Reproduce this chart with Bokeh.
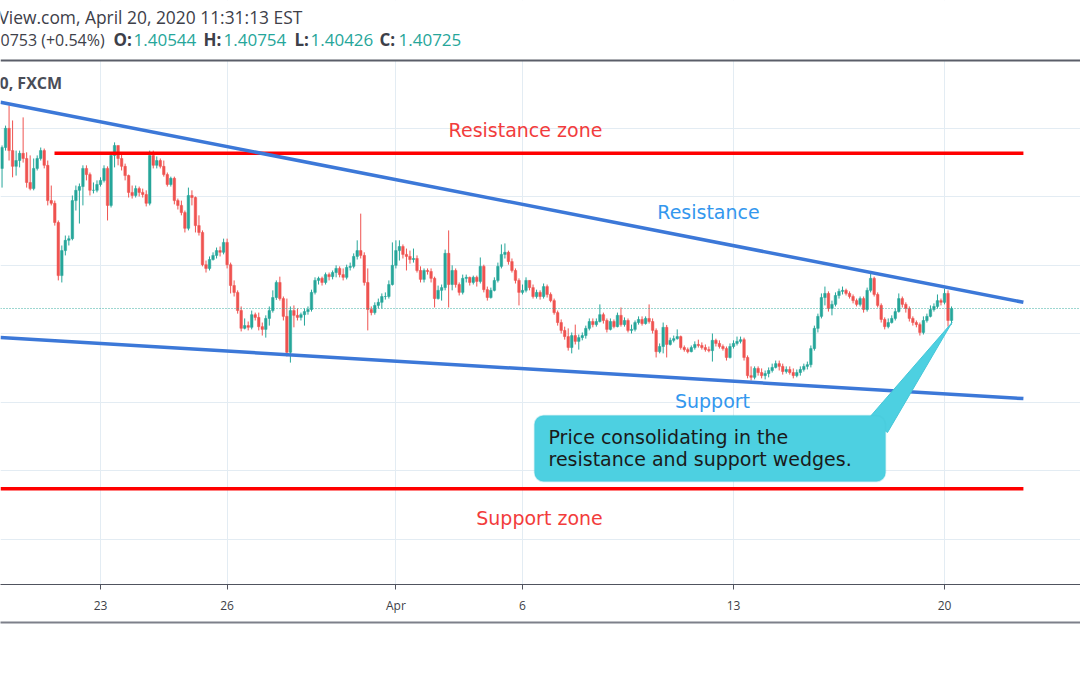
from bokeh.plotting import figure
from bokeh.models import (Range1d, FixedTicker, Span, Label, BoxAnnotation, Grid,
                          ColumnDataSource, LinearAxis)
from bokeh.embed import file_html
from bokeh.resources import INLINE

# ---------------- data (USD/CAD, 2h candles, FXCM) ----------------
# x axis: trading-day index, 0 = Mon Mar 23 (weekends skipped)
tick_days = [0, 3, 7, 10, 15, 20]
tick_labels = ["23", "26", "Apr", "6", "13", "20"]
price_grid = [1.34, 1.36, 1.38, 1.40, 1.42, 1.44, 1.46]
bars_per_day = 12
first_bar_day = -28 / 12
first_open = 1.4482

close = [
    1.4543, 1.4599, 1.4534, 1.4488, 1.4505, 1.4526, 1.4511, 1.4441, 1.4423, 1.4482,
    1.4511, 1.4534, 1.4491, 1.4388, 1.4380, 1.4324, 1.4169, 1.4242, 1.4272, 1.4277,
    1.4388, 1.4418, 1.4429, 1.4482, 1.4464, 1.4418, 1.4418, 1.4435, 1.4447, 1.4482,
    1.4374, 1.4520, 1.4549, 1.4511, 1.4488, 1.4461, 1.4412, 1.4403, 1.4423, 1.4412,
    1.4406, 1.4380, 1.4520, 1.4491, 1.4505, 1.4488, 1.4464, 1.4435, 1.4453, 1.4388,
    1.4374, 1.4353, 1.4307, 1.4403, 1.4397, 1.4315, 1.4295, 1.4201, 1.4190, 1.4216,
    1.4228, 1.4242, 1.4237, 1.4266, 1.4201, 1.4140, 1.4120, 1.4067, 1.4015, 1.4023,
    1.4018, 1.4055, 1.4047, 1.4020, 1.4012, 1.4044, 1.4067, 1.4105, 1.4149, 1.4102,
    1.4050, 1.3945, 1.4067, 1.4053, 1.4047, 1.4055, 1.4064, 1.4070, 1.4120, 1.4155,
    1.4161, 1.4149, 1.4172, 1.4166, 1.4178, 1.4190, 1.4172, 1.4164, 1.4193, 1.4196,
    1.4225, 1.4242, 1.4228, 1.4149, 1.4070, 1.4061, 1.4082, 1.4091, 1.4108, 1.4108,
    1.4143, 1.4199, 1.4242, 1.4254, 1.4231, 1.4225, 1.4216, 1.4219, 1.4184, 1.4158,
    1.4184, 1.4181, 1.4161, 1.4102, 1.4126, 1.4134, 1.4234, 1.4143, 1.4184, 1.4143,
    1.4120, 1.4161, 1.4164, 1.4149, 1.4164, 1.4152, 1.4196, 1.4128, 1.4105, 1.4126,
    1.4155, 1.4196, 1.4231, 1.4237, 1.4210, 1.4184, 1.4155, 1.4120, 1.4126, 1.4155,
    1.4134, 1.4108, 1.4120, 1.4108, 1.4137, 1.4114, 1.4096, 1.4061, 1.4032, 1.4009,
    1.3991, 1.3959, 1.3994, 1.3977, 1.3988, 1.3994, 1.4015, 1.4035, 1.4026, 1.4035,
    1.4055, 1.4038, 1.4012, 1.4035, 1.4020, 1.4053, 1.4026, 1.4038, 1.4009, 1.4012,
    1.4032, 1.4041, 1.4029, 1.4044, 1.4035, 1.4009, 1.3947, 1.3962, 1.4018, 1.3968,
    1.3980, 1.3985, 1.3991, 1.3959, 1.3953, 1.3947, 1.3959, 1.3968, 1.3965, 1.3959,
    1.3953, 1.3950, 1.3980, 1.3971, 1.3962, 1.3956, 1.3930, 1.3962, 1.3971, 1.3977,
    1.3982, 1.3930, 1.3877, 1.3872, 1.3898, 1.3886, 1.3877, 1.3883, 1.3892, 1.3901,
    1.3912, 1.3904, 1.3889, 1.3895, 1.3886, 1.3877, 1.3886, 1.3895, 1.3904, 1.3909,
    1.3956, 1.4015, 1.4050, 1.4105, 1.4117, 1.4073, 1.4085, 1.4111, 1.4123, 1.4126,
    1.4117, 1.4108, 1.4096, 1.4085, 1.4102, 1.4070, 1.4126, 1.4161, 1.4114, 1.4082,
    1.4041, 1.4020, 1.4032, 1.4044, 1.4064, 1.4102, 1.4085, 1.4073, 1.4044, 1.4032,
    1.4026, 1.4003, 1.4038, 1.4050, 1.4070, 1.4079, 1.4096, 1.4091, 1.4117, 1.4038, 1.4073,
]
high = [
    1.4549, 1.4607, 1.4666, 1.4622, 1.4534, 1.4534, 1.4631, 1.4529, 1.4520, 1.4511,
    1.4520, 1.4543, 1.4540, 1.4505, 1.4432, 1.4388, 1.4330, 1.4257, 1.4286, 1.4286,
    1.4403, 1.4432, 1.4438, 1.4491, 1.4491, 1.4470, 1.4441, 1.4447, 1.4456, 1.4491,
    1.4488, 1.4529, 1.4558, 1.4549, 1.4529, 1.4496, 1.4464, 1.4432, 1.4432, 1.4429,
    1.4423, 1.4418, 1.4534, 1.4534, 1.4517, 1.4511, 1.4505, 1.4470, 1.4458, 1.4458,
    1.4394, 1.4388, 1.4359, 1.4426, 1.4418, 1.4400, 1.4345, 1.4301, 1.4213, 1.4225,
    1.4237, 1.4251, 1.4254, 1.4277, 1.4277, 1.4207, 1.4155, 1.4126, 1.4079, 1.4044,
    1.4035, 1.4067, 1.4061, 1.4061, 1.4032, 1.4053, 1.4079, 1.4126, 1.4155, 1.4166,
    1.4108, 1.4102, 1.4079, 1.4082, 1.4073, 1.4061, 1.4073, 1.4079, 1.4128, 1.4164,
    1.4166, 1.4166, 1.4178, 1.4178, 1.4184, 1.4199, 1.4196, 1.4190, 1.4201, 1.4207,
    1.4234, 1.4272, 1.4350, 1.4237, 1.4190, 1.4079, 1.4091, 1.4102, 1.4117, 1.4120,
    1.4155, 1.4266, 1.4272, 1.4272, 1.4260, 1.4248, 1.4242, 1.4248, 1.4228, 1.4196,
    1.4190, 1.4190, 1.4190, 1.4166, 1.4140, 1.4143, 1.4245, 1.4301, 1.4199, 1.4190,
    1.4149, 1.4172, 1.4172, 1.4166, 1.4169, 1.4169, 1.4222, 1.4201, 1.4137, 1.4134,
    1.4164, 1.4207, 1.4260, 1.4263, 1.4242, 1.4219, 1.4190, 1.4161, 1.4143, 1.4164,
    1.4155, 1.4143, 1.4128, 1.4126, 1.4146, 1.4143, 1.4120, 1.4102, 1.4067, 1.4041,
    1.4020, 1.4015, 1.4003, 1.4026, 1.3997, 1.4003, 1.4023, 1.4044, 1.4044, 1.4044,
    1.4085, 1.4061, 1.4044, 1.4044, 1.4041, 1.4061, 1.4076, 1.4047, 1.4044, 1.4026,
    1.4038, 1.4050, 1.4050, 1.4050, 1.4085, 1.4044, 1.4015, 1.3971, 1.4032, 1.4025,
    1.3988, 1.3994, 1.4012, 1.3994, 1.3965, 1.3959, 1.3965, 1.3977, 1.3982, 1.3974,
    1.3968, 1.3962, 1.4000, 1.3985, 1.3980, 1.3968, 1.3962, 1.3971, 1.3980, 1.3991,
    1.3991, 1.3988, 1.3936, 1.3904, 1.3904, 1.3904, 1.3898, 1.3892, 1.3901, 1.3912,
    1.3921, 1.3921, 1.3912, 1.3904, 1.3904, 1.3898, 1.3895, 1.3904, 1.3912, 1.3918,
    1.3965, 1.4023, 1.4058, 1.4117, 1.4137, 1.4123, 1.4096, 1.4120, 1.4131, 1.4137,
    1.4131, 1.4123, 1.4114, 1.4102, 1.4108, 1.4108, 1.4134, 1.4181, 1.4166, 1.4120,
    1.4088, 1.4047, 1.4044, 1.4053, 1.4073, 1.4117, 1.4108, 1.4091, 1.4079, 1.4050,
    1.4038, 1.4032, 1.4050, 1.4058, 1.4082, 1.4088, 1.4114, 1.4102, 1.4131, 1.4126, 1.4079,
]
low = [
    1.4426, 1.4534, 1.4505, 1.4456, 1.4461, 1.4485, 1.4499, 1.4426, 1.4418, 1.4418,
    1.4476, 1.4505, 1.4482, 1.4374, 1.4374, 1.4315, 1.4155, 1.4149, 1.4228, 1.4257,
    1.4272, 1.4359, 1.4321, 1.4374, 1.4447, 1.4403, 1.4409, 1.4412, 1.4429, 1.4441,
    1.4330, 1.4368, 1.4485, 1.4491, 1.4476, 1.4447, 1.4397, 1.4394, 1.4397, 1.4400,
    1.4397, 1.4371, 1.4374, 1.4482, 1.4482, 1.4482, 1.4458, 1.4429, 1.4429, 1.4377,
    1.4362, 1.4345, 1.4295, 1.4301, 1.4374, 1.4295, 1.4286, 1.4196, 1.4178, 1.4184,
    1.4213, 1.4219, 1.4225, 1.4231, 1.4190, 1.4117, 1.4108, 1.4058, 1.4006, 1.4012,
    1.4009, 1.4012, 1.4038, 1.4009, 1.3994, 1.3988, 1.4023, 1.4061, 1.4098, 1.4096,
    1.4038, 1.3933, 1.3915, 1.4018, 1.4038, 1.4038, 1.4023, 1.4055, 1.4064, 1.4114,
    1.4143, 1.4140, 1.4143, 1.4155, 1.4158, 1.4164, 1.4164, 1.4155, 1.4158, 1.4184,
    1.4190, 1.4216, 1.4219, 1.4140, 1.4009, 1.4053, 1.4055, 1.4073, 1.4073, 1.4099,
    1.4102, 1.4140, 1.4190, 1.4213, 1.4219, 1.4184, 1.4204, 1.4207, 1.4178, 1.4149,
    1.4149, 1.4172, 1.4149, 1.4076, 1.4099, 1.4096, 1.4126, 1.4076, 1.4126, 1.4134,
    1.4111, 1.4114, 1.4149, 1.4140, 1.4143, 1.4137, 1.4146, 1.4120, 1.4096, 1.4102,
    1.4123, 1.4149, 1.4190, 1.4219, 1.4201, 1.4178, 1.4146, 1.4082, 1.4114, 1.4120,
    1.4126, 1.4102, 1.4102, 1.4099, 1.4102, 1.4105, 1.4091, 1.4055, 1.4023, 1.4000,
    1.3982, 1.3950, 1.3942, 1.3968, 1.3953, 1.3980, 1.3985, 1.4009, 1.4018, 1.4020,
    1.4032, 1.4029, 1.4003, 1.4009, 1.4015, 1.4018, 1.4020, 1.4020, 1.4003, 1.4000,
    1.4006, 1.4026, 1.4023, 1.4026, 1.4029, 1.4000, 1.3930, 1.3942, 1.3942, 1.3930,
    1.3965, 1.3974, 1.3982, 1.3953, 1.3947, 1.3942, 1.3945, 1.3953, 1.3959, 1.3953,
    1.3947, 1.3945, 1.3918, 1.3962, 1.3956, 1.3950, 1.3921, 1.3927, 1.3956, 1.3965,
    1.3971, 1.3921, 1.3869, 1.3863, 1.3866, 1.3877, 1.3869, 1.3866, 1.3872, 1.3886,
    1.3898, 1.3892, 1.3880, 1.3883, 1.3880, 1.3869, 1.3872, 1.3877, 1.3889, 1.3895,
    1.3901, 1.3950, 1.4003, 1.4044, 1.4082, 1.4064, 1.4053, 1.4079, 1.4102, 1.4114,
    1.4111, 1.4102, 1.4088, 1.4079, 1.4079, 1.4061, 1.4064, 1.4120, 1.4108, 1.4076,
    1.4032, 1.4012, 1.4015, 1.4029, 1.4038, 1.4061, 1.4076, 1.4061, 1.4035, 1.4023,
    1.4018, 1.3994, 1.3997, 1.4032, 1.4047, 1.4064, 1.4073, 1.4082, 1.4085, 1.4020, 1.4026,
]

# drawings (trading-day index, price)
res_line_day = [-2.37, 21.87]
res_line_price = [1.4675, 1.4091]
sup_line_day = [-2.37, 21.87]
sup_line_price = [1.3988, 1.3810]
res_zone_day = [-1.09, 21.87]
res_zone_price = [1.4526, 1.4526]
sup_zone_day = [-2.37, 21.87]
sup_zone_price = [1.3547, 1.3547]
last_price = 1.4073

# ---------------- layout helpers (screen px -> data) ----------------
PX_DAY0 = 100.0
PX_PER_DAY = 42.2
def xd(px):
    return (px - PX_DAY0) / PX_PER_DAY
def yp(py):
    return 1.40 + (333.0 - py) * 0.02 / 68.5

GREEN = "#26a69a"
RED = "#ef5350"

open_ = [first_open] + close[:-1]
bar_day = [first_bar_day + i / bars_per_day for i in range(len(close))]
colors = [GREEN if c >= o else RED for o, c in zip(open_, close)]
src = ColumnDataSource(dict(
    x=bar_day, high=high, low=low,
    top=[max(o, c) for o, c in zip(open_, close)],
    bottom=[min(o, c) for o, c in zip(open_, close)],
    color=colors,
))

p = figure(width=1080, height=675,
           x_range=Range1d(xd(0), xd(1080)), y_range=Range1d(yp(584), yp(0)),
           toolbar_location=None, output_backend="svg",
           y_axis_location=None,
           min_border_left=0, min_border_right=0, min_border_top=0, min_border_bottom=91)
p.outline_line_color = None
p.background_fill_color = "white"
p.border_fill_color = "white"

# axis
p.xaxis.ticker = FixedTicker(ticks=tick_days)
p.xaxis.major_label_overrides = {d: l for d, l in zip(tick_days, tick_labels)}
p.xaxis.axis_line_color = "#50535e"
p.xaxis.axis_line_width = 1
p.xaxis.major_tick_line_color = "#50535e"
p.xaxis.major_tick_in = 0
p.xaxis.major_tick_out = 5
p.xaxis.minor_tick_line_color = None
p.xaxis.major_label_text_font = "Open Sans"
p.xaxis.major_label_text_font_size = "12px"
p.xaxis.major_label_text_color = "#3d3f48"
p.xaxis.major_label_standoff = 7
p.xaxis.axis_label = " "
p.xaxis.axis_label_text_font_size = "3px"
p.xaxis.axis_label_standoff = 0

# bottom border of the time-scale panel (an empty axis whose line sits under it)
edge = LinearAxis(ticker=FixedTicker(ticks=[]), axis_line_color="#7d808a", axis_line_width=2,
                  major_tick_line_color=None, minor_tick_line_color=None,
                  major_label_text_font_size="0px")
p.add_layout(edge, "below")

# grids
p.xgrid.grid_line_color = "#e3ecf3"
p.ygrid.visible = False
p.add_layout(Grid(dimension=1, ticker=FixedTicker(ticks=price_grid),
                  grid_line_color="#e3ecf3"))

# candles
p.segment(x0="x", y0="high", x1="x", y1="low", line_color="color", line_width=1, source=src)
p.vbar(x="x", width=0.06, top="top", bottom="bottom", fill_color="color",
       line_color="color", line_width=0.5, source=src)

# last price dotted line
p.add_layout(Span(location=last_price, dimension="width", line_color=GREEN,
                  line_dash="1 2", line_width=1, line_alpha=0.9))

# zones and trendlines
p.line(res_zone_day, res_zone_price, line_color="#ff0000", line_width=3.5)
p.line(sup_zone_day, sup_zone_price, line_color="#ff0000", line_width=3.5)
p.line(res_line_day, res_line_price, line_color="#3c78d8", line_width=3.5)
p.line(sup_line_day, sup_line_price, line_color="#3c78d8", line_width=3.5)

# callout pointer + box
p.patch([xd(868), xd(951.5), xd(887)], [yp(418), yp(322), yp(432)],
        fill_color="#4dd0e1", line_color="#45c6d8", line_width=1)
p.add_layout(BoxAnnotation(left=xd(534), right=xd(885), top=yp(415), bottom=yp(481),
                           fill_color="#4dd0e1", fill_alpha=1.0,
                           line_color="#45c6d8", line_width=1.5, border_radius=9))

# header panel (white, above the price pane)
p.add_layout(BoxAnnotation(top=yp(0), bottom=yp(60), fill_color="white", fill_alpha=1.0,
                           line_color=None))
p.add_layout(Span(location=yp(60), dimension="width", line_color="#5a5e69", line_width=2))

def lab(text, px, py, size, color, font="DejaVu Sans", bold=False, align="left"):
    p.add_layout(Label(x=xd(px), y=yp(py), text=text, text_font=font,
                       text_font_size=f"{size}px", text_color=color,
                       text_font_style="bold" if bold else "normal",
                       text_align=align, text_baseline="alphabetic"))

lab("Price consolidating in the", 548, 436, 19, "#1a1a1a")
lab("resistance and support wedges.", 548, 458, 19, "#1a1a1a")

lab("Resistance zone", 525, 129, 19, "#f23c3c", align="center")
lab("Resistance", 708, 211, 19, "#3397ee", align="center")
lab("Support", 712, 400, 19, "#3397ee", align="center")
lab("Support zone", 539, 517, 19, "#f23c3c", align="center")

# header
HC = "#3d4049"
TEAL = "#26a69a"
lab("View.com, April 20, 2020 11:31:13 EST", -2, 16, 17.4, HC, font="Open Sans")
lab("0753 (+0.54%)", 0, 39, 16, HC, font="Open Sans")
for t, x, c, b in [("O:", 113, HC, True), ("1.40544", 133, TEAL, False),
                   ("H:", 203, HC, True), ("1.40754", 223, TEAL, False),
                   ("L:", 294, HC, True), ("1.40426", 310, TEAL, False),
                   ("C:", 379, HC, True), ("1.40725", 398, TEAL, False)]:
    lab(t, x, 39, 17, c, font="Open Sans", bold=b)
lab("0, FXCM", -1, 82, 16, "#4a4d57", font="Open Sans", bold=True)

open("out.html", "w").write(file_html(p, INLINE))
